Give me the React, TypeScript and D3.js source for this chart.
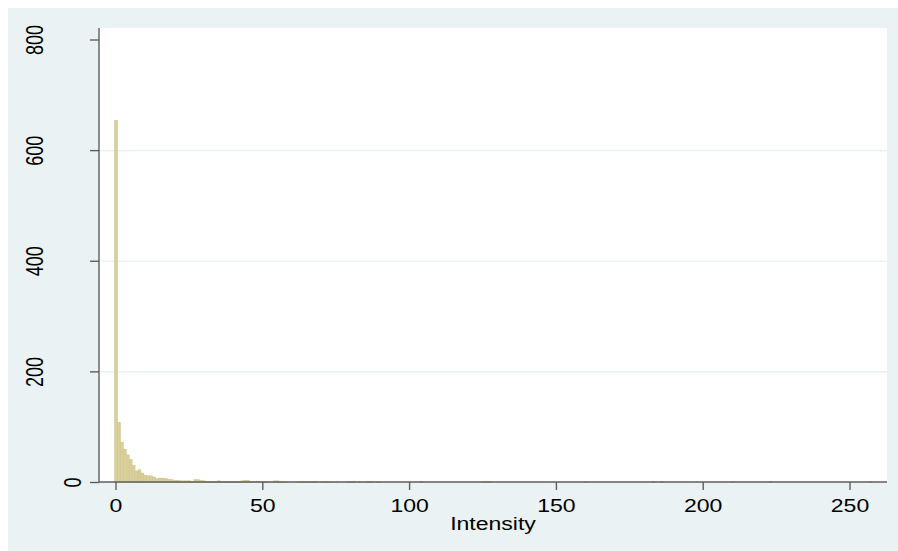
import * as d3 from 'd3'
import React, { useRef, useEffect } from 'react'

// histogram of pixel intensity (bin width 1)
const intensity = [
  0, 1, 2, 3, 4, 5, 6, 7, 8, 9, 10, 11, 12, 13, 14, 15, 16, 17, 18, 19,
  20, 21, 22, 23, 24, 25, 26, 27, 28, 29, 30, 31, 32, 33, 34, 35, 36, 37, 38, 39,
  40, 41, 42, 43, 44, 45, 46, 47, 48, 49, 50, 51, 52, 54, 55, 56, 57, 58,
  62, 63, 64, 65, 66, 67, 68, 70, 71, 72, 73, 75, 79, 80, 81, 83, 85, 86, 87, 89, 90,
  104, 125, 126, 127, 160, 183, 186, 210, 223, 257
]
const counts = [
  655, 109, 73, 60, 50, 42, 31, 21, 23, 17, 13, 12, 12, 10, 7, 8, 8, 7, 6, 5,
  4, 4, 3, 3, 3, 3, 2, 5, 5, 4, 3, 2, 2, 2, 2, 3, 2, 2, 2, 2,
  2, 2, 2, 3, 4, 4, 2, 1, 2, 2, 2, 2, 1, 3, 3, 2, 1, 1,
  1, 2, 2, 2, 1, 2, 2, 1, 2, 2, 1, 1, 1, 2, 2, 2, 1, 2, 2, 1, 1,
  2, 2, 2, 2, 1, 2, 2, 2, 2, 2
]

const yTicks = [0, 200, 400, 600, 800]
const yGrid = [200, 400, 600]
const xTicks = [0, 50, 100, 150, 200, 250]
const xTitle = 'Intensity'

const W = 890
const H = 543
const left = 91
const right = 879
const top = 20
const bottom = 474
const stretch = 1.28
const font = '"Liberation Sans", Arial, sans-serif'

const App = () => {
  const ref = useRef(null)

  const x = d3.scaleLinear().domain([0, 250]).range([108, 842])
  const y = d3.scaleLinear().domain([0, 800]).range([474.5, 32])

  useEffect(() => {
    const svg = d3.select(ref.current)
    svg.selectAll('*').remove()

    svg.append('rect')
      .attr('width', W).attr('height', H)
      .attr('fill', '#eaf2f3')

    svg.append('rect')
      .attr('x', left).attr('y', top)
      .attr('width', right - left).attr('height', bottom - top)
      .attr('fill', '#ffffff')

    svg.selectAll('line.grid')
      .data(yGrid)
      .enter()
      .append('line')
      .attr('class', 'grid')
      .attr('x1', left).attr('x2', right)
      .attr('y1', d => y(d)).attr('y2', d => y(d))
      .attr('stroke', '#e4eef0')
      .attr('stroke-width', 1.2)

    const bars = intensity.map((v, i) => ({ v, c: counts[i] }))
    svg.selectAll('rect.bar')
      .data(bars)
      .enter()
      .append('rect')
      .attr('class', 'bar')
      .attr('x', d => x(d.v - 0.5))
      .attr('width', d => x(d.v + 0.5) - x(d.v - 0.5))
      .attr('y', d => y(d.c))
      .attr('height', d => y(0) - y(d.c))
      .attr('fill', '#d8cf9b')
      .attr('stroke', '#ccc388')
      .attr('stroke-width', 0.5)

    const axisColor = '#5e5e5e'

    // y axis
    svg.append('line')
      .attr('x1', left).attr('x2', left)
      .attr('y1', top).attr('y2', bottom + 0.5)
      .attr('stroke', axisColor).attr('stroke-width', 1.4)
    svg.selectAll('line.ytick')
      .data(yTicks)
      .enter()
      .append('line')
      .attr('class', 'ytick')
      .attr('x1', left - 9).attr('x2', left)
      .attr('y1', d => y(d)).attr('y2', d => y(d))
      .attr('stroke', axisColor).attr('stroke-width', 1.4)
    svg.selectAll('text.ylab')
      .data(yTicks)
      .enter()
      .append('text')
      .attr('class', 'ylab')
      .attr('transform', d => {
        const bx = 73 - (String(d).length - 1) * 19
        return `translate(${bx},${y(d)}) scale(${stretch},1) rotate(-90)`
      })
      .attr('text-anchor', 'middle')
      .style('font-family', font)
      .style('font-size', '18px')
      .attr('fill', '#000')
      .text(d => d)

    // x axis
    svg.append('line')
      .attr('x1', left).attr('x2', right)
      .attr('y1', bottom).attr('y2', bottom)
      .attr('stroke', axisColor).attr('stroke-width', 1.6)
    svg.selectAll('line.xtick')
      .data(xTicks)
      .enter()
      .append('line')
      .attr('class', 'xtick')
      .attr('x1', d => x(d)).attr('x2', d => x(d))
      .attr('y1', bottom).attr('y2', bottom + 8)
      .attr('stroke', axisColor).attr('stroke-width', 1.4)
    svg.selectAll('text.xlab')
      .data(xTicks)
      .enter()
      .append('text')
      .attr('class', 'xlab')
      .attr('transform', d => `translate(${x(d)},504) scale(${stretch},1)`)
      .attr('text-anchor', 'middle')
      .style('font-family', font)
      .style('font-size', '18px')
      .attr('fill', '#000')
      .text(d => d)

    svg.append('text')
      .attr('transform', `translate(${(left + right) / 2},522) scale(${stretch},1)`)
      .attr('text-anchor', 'middle')
      .style('font-family', font)
      .style('font-size', '18px')
      .attr('fill', '#000')
      .text(xTitle)
  }, [])

  return (
    <div>
      <svg ref={ref} width={W} height={H}
        style={{ display: 'block', position: 'fixed', left: 8, top: 8 }} />
    </div>
  )
}

export default App
